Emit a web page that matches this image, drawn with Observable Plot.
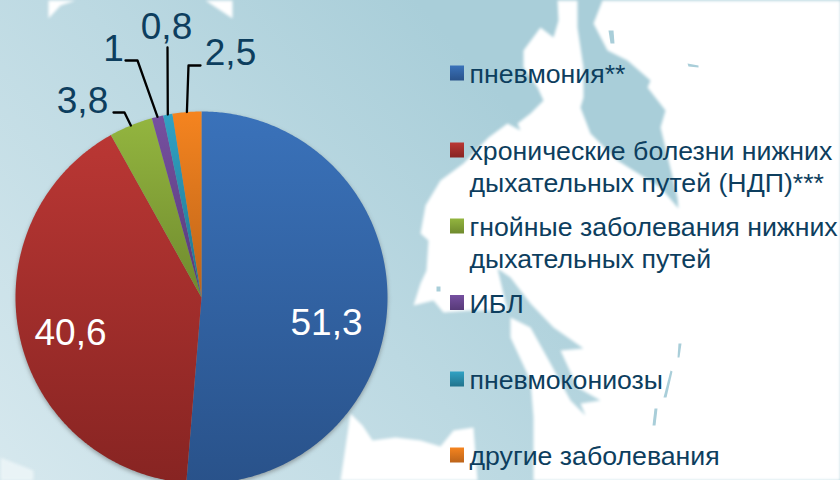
<!DOCTYPE html>
<html lang="ru">
<head>
<meta charset="utf-8">
<script src="https://cdn.jsdelivr.net/npm/d3@7"></script>
<script src="https://cdn.jsdelivr.net/npm/@observablehq/plot@0.6"></script>
<style>
html,body{margin:0;padding:0;background:#fff;overflow:hidden}
svg{display:block}
</style>
</head>
<body>
<div id="chart"></div>
<script>
// --- chart data ---
const categories = ["пневмония**", "хронические болезни нижних\nдыхательных путей (НДП)***", "гнойные заболевания нижних\nдыхательных путей", "ИБЛ", "пневмокониозы", "другие заболевания"];
const values = [51.3, 40.6, 3.8, 1, 0.8, 2.5];
const valueLabels = ["51,3", "40,6", "3,8", "1", "0,8", "2,5"];

// --- styles ---
const topColors = ["#3a72ba", "#ba3734", "#93b53f", "#7650a0", "#30a2c4", "#f5841f"];
const bottomColors = ["#29528a", "#872422", "#6f8a2e", "#573a78", "#22738c", "#bc641a"];
const textColor = "#0d3e5e";

// --- layout ---
const cx = 201, cy = 297, R = 186;
const legendRowY = [73, 150, 226, 302.5, 379, 455];
const labelPos = [[326, 323], [70, 333], [82, 101], [113, 49], [166, 27], [230, 53]];
const leaderElbows = [null, null, [[113, 112], [124, 112]], [[125, 60], [137, 60]], [[167, 47]], [[200, 65], [188, 65]]];

// --- decorative map background ---
const landMain = [[557,0],[558,20],[553,37],[540,27],[523,50],[523,67],[537,87],[543,100],[530,113],[517,123],[520,130],[507,123],[488,137],[463,163],[440,180],[425,205],[420,233],[428,240],[426,270],[420,283],[413,305],[433,300],[443,312],[470,310],[507,310],[497,268],[510,277],[530,303],[553,327],[583,348],[560,350],[577,387],[600,400],[580,403],[585,415],[570,400],[550,363],[530,327],[510,317],[510,337],[530,380],[533,417],[533,480],[840,480],[840,0],[602,0],[593,23],[607,50],[627,60],[650,80],[647,87],[665,110],[660,127],[677,197],[678,208],[660,187],[617,160],[590,133],[580,107],[583,97],[583,67],[577,27],[577,0]];
const landSouth = [[350,413],[362,425],[372,440],[395,437],[420,440],[440,446],[453,430],[473,427],[477,480],[340,480]];
const landCorner = [[0,457],[33,470],[33,480],[0,480]];
const landNorthA = [[48,18],[60,5],[75,0],[48,0]];
const landNorthB = [[205,0],[220,10],[232,18],[232,0]];
const islands = [[[608,30],[613,30],[614,43],[610,43]], [[687,63],[698,65],[698,67],[688,66]], [[678,343],[681,343],[679,357],[677,357]], [[670,370],[672,371],[666,397],[663,397]], [[654,408],[657,408],[655,425],[652,425]], [[436,286],[440,286],[440,291],[436,291]]];

// --- wedges computed from the values ---
const total = d3.sum(values);
const angle = p => (p / total) * 2 * Math.PI;
let run = 0;
const slices = values.map((v, i) => {
  const a0 = angle(run), a1 = angle(run + v);
  run += v;
  const pts = [[cx, cy]];
  const n = Math.max(2, Math.ceil((a1 - a0) / 0.01));
  for (let k = 0; k <= n; k++) {
    const a = a0 + (a1 - a0) * k / n;
    pts.push([cx + R * Math.sin(a), cy - R * Math.cos(a)]);
  }
  const mid = (a0 + a1) / 2;
  return {i, pts, rim: [cx + R * Math.sin(mid), cy - R * Math.cos(mid)]};
});

const poly = (pts, options) => Plot.line(pts, {x: d => d[0], y: d => d[1], curve: "linear-closed", stroke: "none", ...options});

const outside = values.map((v, i) => i).filter(i => leaderElbows[i]);

const plot = Plot.plot({
  width: 840, height: 480,
  margin: 0,
  x: {domain: [0, 840], range: [0, 840], axis: null},
  y: {domain: [0, 480], range: [0, 480], axis: null},
  marks: [
    Plot.rect([0], {x1: 0, x2: 840, y1: 0, y2: 480, fill: "url(#bg)"}),
    poly(landMain, {fill: "#fff", imageFilter: "blur(1.5px)"}),
    poly(landSouth, {fill: "#fff", imageFilter: "blur(1.5px)"}),
    poly(landCorner, {fill: "#e9f3f6", imageFilter: "blur(1.5px)"}),
    poly(landNorthA, {fill: "#fff", imageFilter: "blur(1.5px)"}),
    poly(landNorthB, {fill: "#fff", imageFilter: "blur(1.5px)"}),
    ...islands.map(p => poly(p, {fill: "#a9ced9", imageFilter: "blur(0.7px)"})),
    // pie shadow + wedges
    Plot.dot([[cx, cy]], {x: d => d[0], y: d => d[1], r: R, fill: "#555", fillOpacity: 0.5, dy: 2, imageFilter: "blur(2px)"}),
    ...slices.map(s => poly(s.pts, {fill: `url(#g${s.i})`})),
    // leader lines
    ...outside.map(i => Plot.line([...leaderElbows[i], slices[i].rim], {x: d => d[0], y: d => d[1], stroke: "#000", strokeWidth: 2.3})),
    // value labels
    Plot.text(valueLabels, {
      x: (d, i) => labelPos[i][0], y: (d, i) => labelPos[i][1], text: d => d,
      fill: (d, i) => i < 2 ? "#fff" : textColor,
      fontSize: 37, fontFamily: "Liberation Sans", textAnchor: "middle"
    }),
    // legend
    ...categories.map((c, i) => Plot.rect([c], {x1: 450, x2: 464, y1: legendRowY[i] - 7.5, y2: legendRowY[i] + 7.5, fill: `url(#g${i})`})),
    Plot.text(categories, {
      x: 469, y: (d, i) => legendRowY[i], text: d => d, dy: -13,
      lineAnchor: "top", lineHeight: 1.19, textAnchor: "start",
      fontSize: 26.7, fontFamily: "Liberation Sans", fill: textColor
    })
  ],
  color: {type: "identity"}
});

const stops = topColors.map((c, i) =>
  `<linearGradient id="g${i}" x1="0" y1="0" x2="0" y2="1"><stop offset="0" stop-color="${c}"/><stop offset="1" stop-color="${bottomColors[i]}"/></linearGradient>`).join("");
plot.insertAdjacentHTML("afterbegin",
  `<defs>${stops}<linearGradient id="bg" gradientUnits="userSpaceOnUse" x1="0" y1="480" x2="470" y2="60"><stop offset="0" stop-color="#d6e8ee"/><stop offset="0.6" stop-color="#bcd9e2"/><stop offset="1" stop-color="#a9ced9"/></linearGradient></defs>`);
document.getElementById("chart").append(plot);
</script>
</body>
</html>
